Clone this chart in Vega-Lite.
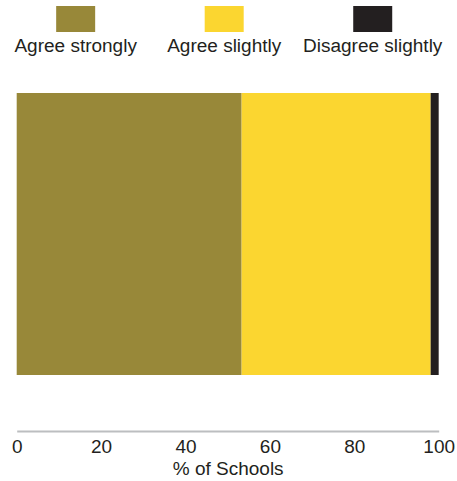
{
  "$schema": "https://vega.github.io/schema/vega-lite/v6.json",
  "autosize": "pad",
  "padding": {"left": 10.7, "top": 0, "right": 0, "bottom": 0},
  "background": "white",
  "config": {"view": {"stroke": null}, "font": "Liberation Sans", "concat": {"spacing": 37}},
  "data": {"values": [
    {"response": "Agree strongly", "pct": 53.3, "rank": 1},
    {"response": "Agree slightly", "pct": 44.8, "rank": 2},
    {"response": "Disagree slightly", "pct": 1.9, "rank": 3}
  ]},
  "vconcat": [
    {
      "width": 415,
      "height": 52,
      "layer": [
        {
          "mark": {"type": "point", "filled": true, "opacity": 1, "shape": "M-1,-0.667H1V0.667H-1Z", "size": 1521, "yOffset": -7},
          "encoding": {
            "x": {"field": "response", "type": "nominal", "sort": ["Agree strongly", "Agree slightly", "Disagree slightly"], "scale": {"type": "point", "padding": 0.397}, "axis": null},
            "color": {"field": "response", "type": "nominal", "scale": {"domain": ["Agree strongly", "Agree slightly", "Disagree slightly"], "range": ["#988839", "#FBD630", "#231F20"]}, "legend": null}
          }
        },
        {
          "mark": {"type": "text", "fontSize": 19, "color": "#231F20", "baseline": "alphabetic", "yOffset": 26},
          "encoding": {
            "x": {"field": "response", "type": "nominal", "sort": ["Agree strongly", "Agree slightly", "Disagree slightly"], "scale": {"type": "point", "padding": 0.397}, "axis": null},
            "text": {"field": "response"}
          }
        }
      ]
    },
    {
      "width": 422,
      "height": 282,
      "mark": {"type": "bar"},
      "encoding": {
        "y": {"datum": "all", "type": "nominal", "scale": {"paddingInner": 0, "paddingOuter": 0}, "axis": null},
        "x": {"field": "pct", "type": "quantitative", "stack": "zero", "scale": {"domain": [0, 100], "nice": false},
          "axis": {"title": "% of Schools", "values": [0, 20, 40, 60, 80, 100], "grid": false, "ticks": false, "labelFlush": false, "domainColor": "#BCBEC0", "domainWidth": 2, "offset": 56, "labelFontSize": 19, "titleFontSize": 19, "labelColor": "#231F20", "titleColor": "#231F20", "titleFontWeight": "normal", "labelPadding": 7, "titlePadding": 3}},
        "color": {"field": "response", "type": "nominal", "scale": {"domain": ["Agree strongly", "Agree slightly", "Disagree slightly"], "range": ["#988839", "#FBD630", "#231F20"]}, "legend": null},
        "order": {"field": "rank", "type": "quantitative"}
      }
    }
  ]
}
